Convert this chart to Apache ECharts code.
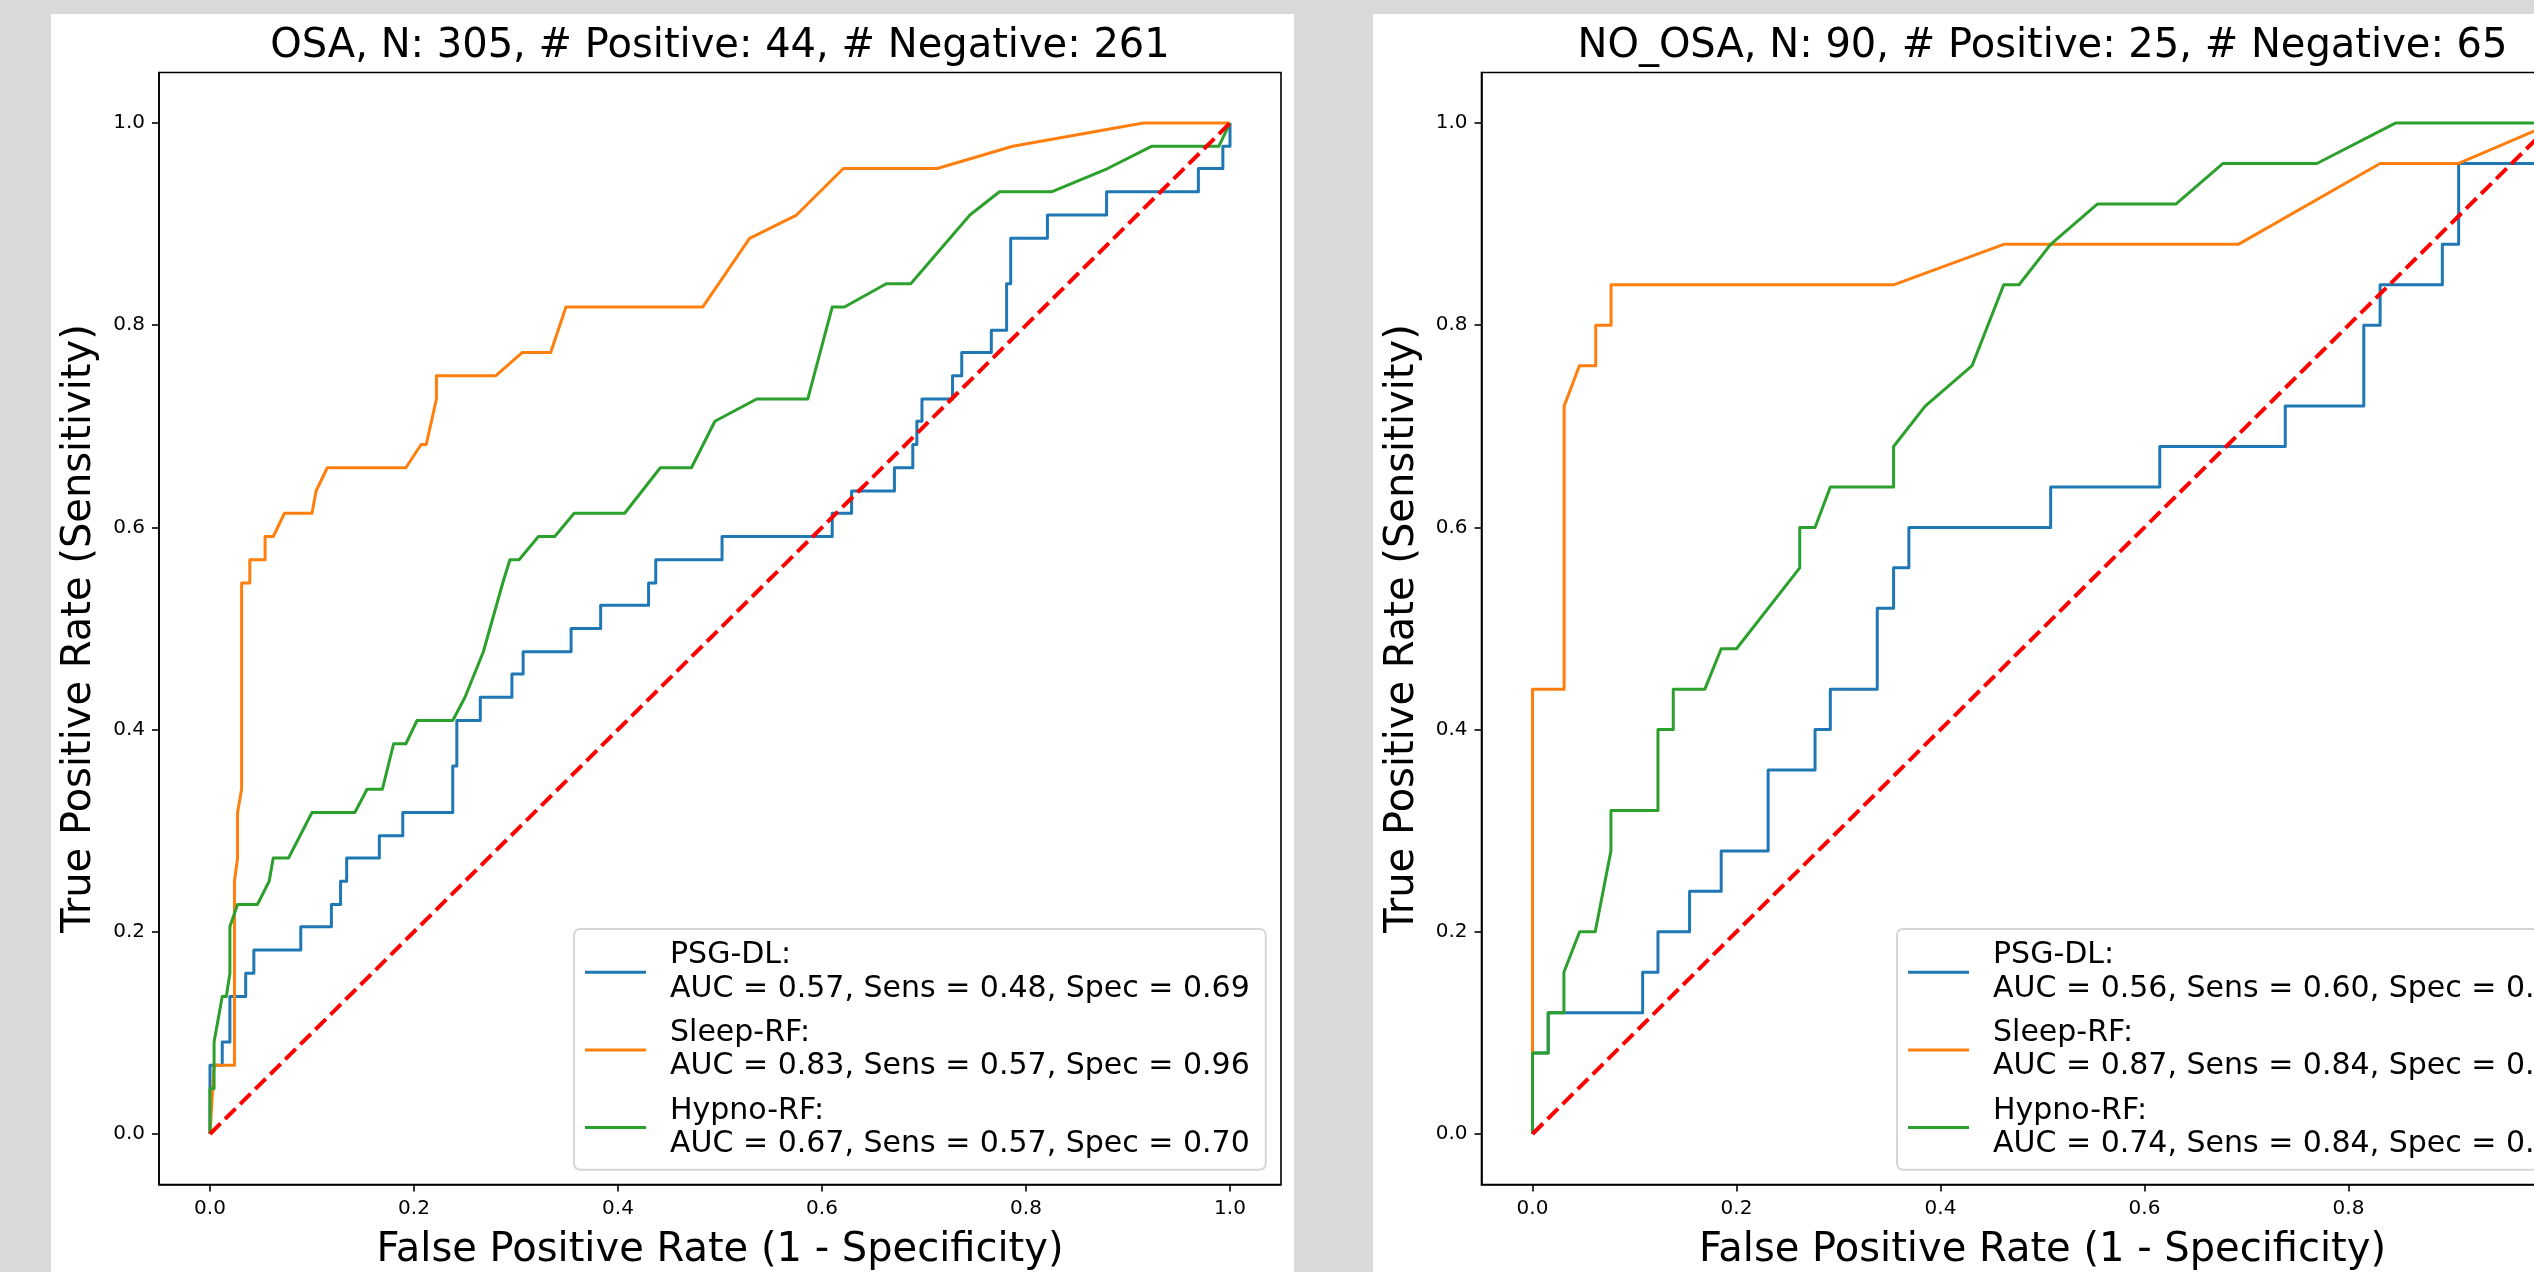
<!DOCTYPE html>
<html>
<head>
<meta charset="utf-8">
<script src="https://cdn.jsdelivr.net/npm/echarts@6/dist/echarts.min.js"></script>
<style>
html,body{margin:0;padding:0;background:#d9d9d9;}
#chart{width:2534px;height:1272px;}
</style>
</head>
<body>
<div id="chart"></div>
<script>
// ---------- data ----------
const xTicks = [0, 0.2, 0.4, 0.6, 0.8, 1.0];
const yTicks = [0, 0.2, 0.4, 0.6, 0.8, 1.0];
const panelTitles = [
  'OSA, N: 305, # Positive: 44, # Negative: 261',
  'NO_OSA, N: 90, # Positive: 25, # Negative: 65'
];
const xAxisTitle = 'False Positive Rate (1 - Specificity)';
const yAxisTitle = 'True Positive Rate (Sensitivity)';
const modelNames = ['PSG-DL', 'Sleep-RF', 'Hypno-RF'];
const osaStats = [
  'AUC = 0.57, Sens = 0.48, Spec = 0.69',
  'AUC = 0.83, Sens = 0.57, Spec = 0.96',
  'AUC = 0.67, Sens = 0.57, Spec = 0.70'
];
const noOsaStats = [
  'AUC = 0.56, Sens = 0.60, Spec = 0.63',
  'AUC = 0.87, Sens = 0.84, Spec = 0.92',
  'AUC = 0.74, Sens = 0.84, Spec = 0.54'
];

// OSA panel (FPR, TPR)
const osaPsgDl = [[0,0],[0,0.068],[0.012,0.068],[0.012,0.091],[0.0195,0.091],[0.0195,0.136],[0.035,0.136],[0.035,0.159],[0.043,0.159],[0.043,0.182],[0.089,0.182],[0.089,0.205],[0.119,0.205],[0.119,0.227],[0.128,0.227],[0.128,0.25],[0.134,0.25],[0.134,0.273],[0.166,0.273],[0.166,0.295],[0.189,0.295],[0.189,0.318],[0.238,0.318],[0.238,0.364],[0.242,0.364],[0.242,0.409],[0.265,0.409],[0.265,0.432],[0.296,0.432],[0.296,0.455],[0.307,0.455],[0.307,0.477],[0.354,0.477],[0.354,0.5],[0.383,0.5],[0.383,0.523],[0.43,0.523],[0.43,0.545],[0.437,0.545],[0.437,0.568],[0.502,0.568],[0.502,0.591],[0.61,0.591],[0.61,0.614],[0.629,0.614],[0.629,0.636],[0.671,0.636],[0.671,0.659],[0.689,0.659],[0.689,0.682],[0.693,0.682],[0.693,0.705],[0.698,0.705],[0.698,0.727],[0.728,0.727],[0.728,0.75],[0.737,0.75],[0.737,0.773],[0.766,0.773],[0.766,0.795],[0.781,0.795],[0.781,0.841],[0.785,0.841],[0.785,0.886],[0.821,0.886],[0.821,0.909],[0.879,0.909],[0.879,0.932],[0.969,0.932],[0.969,0.955],[0.993,0.955],[0.993,0.977],[1,0.977],[1,1]];
const osaSleepRf = [[0,0],[0.004,0.068],[0.024,0.068],[0.024,0.25],[0.027,0.273],[0.027,0.318],[0.031,0.341],[0.031,0.545],[0.039,0.545],[0.039,0.568],[0.054,0.568],[0.054,0.591],[0.062,0.591],[0.073,0.614],[0.1,0.614],[0.104,0.636],[0.115,0.659],[0.192,0.659],[0.207,0.682],[0.212,0.682],[0.222,0.727],[0.222,0.75],[0.28,0.75],[0.306,0.773],[0.334,0.773],[0.349,0.818],[0.483,0.818],[0.529,0.886],[0.575,0.909],[0.621,0.955],[0.713,0.955],[0.787,0.977],[0.915,1],[1,1]];
const osaHypnoRf = [[0,0],[0,0.045],[0.004,0.045],[0.004,0.091],[0.012,0.136],[0.016,0.136],[0.0195,0.159],[0.0195,0.205],[0.027,0.227],[0.0465,0.227],[0.058,0.25],[0.062,0.273],[0.077,0.273],[0.1,0.318],[0.142,0.318],[0.154,0.341],[0.169,0.341],[0.18,0.386],[0.192,0.386],[0.203,0.409],[0.238,0.409],[0.25,0.432],[0.268,0.477],[0.287,0.545],[0.294,0.568],[0.303,0.568],[0.322,0.591],[0.338,0.591],[0.357,0.614],[0.4065,0.614],[0.4415,0.659],[0.472,0.659],[0.495,0.705],[0.536,0.727],[0.586,0.727],[0.61,0.818],[0.622,0.818],[0.663,0.841],[0.687,0.841],[0.745,0.909],[0.774,0.932],[0.825,0.932],[0.88,0.955],[0.923,0.977],[0.989,0.977],[1,1]];

// NO_OSA panel (FPR, TPR)
const noOsaPsgDl = [[0,0],[0,0.08],[0.0154,0.08],[0.0154,0.12],[0.108,0.12],[0.108,0.16],[0.123,0.16],[0.123,0.2],[0.154,0.2],[0.154,0.24],[0.185,0.24],[0.185,0.28],[0.231,0.28],[0.231,0.36],[0.277,0.36],[0.277,0.4],[0.292,0.4],[0.292,0.44],[0.338,0.44],[0.338,0.52],[0.354,0.52],[0.354,0.56],[0.369,0.56],[0.369,0.6],[0.508,0.6],[0.508,0.64],[0.615,0.64],[0.615,0.68],[0.738,0.68],[0.738,0.72],[0.815,0.72],[0.815,0.8],[0.831,0.8],[0.831,0.84],[0.892,0.84],[0.892,0.88],[0.908,0.88],[0.908,0.96],[1,0.96],[1,1]];
const noOsaSleepRf = [[0,0],[0,0.44],[0.031,0.44],[0.031,0.72],[0.046,0.76],[0.062,0.76],[0.062,0.8],[0.077,0.8],[0.077,0.84],[0.354,0.84],[0.462,0.88],[0.692,0.88],[0.831,0.96],[0.908,0.96],[1,1]];
const noOsaHypnoRf = [[0,0],[0,0.08],[0.0154,0.08],[0.0154,0.12],[0.0308,0.12],[0.0308,0.16],[0.0462,0.2],[0.0615,0.2],[0.0769,0.28],[0.0769,0.32],[0.123,0.32],[0.123,0.4],[0.138,0.4],[0.138,0.44],[0.169,0.44],[0.185,0.48],[0.2,0.48],[0.262,0.56],[0.262,0.6],[0.277,0.6],[0.292,0.64],[0.354,0.64],[0.354,0.68],[0.385,0.72],[0.431,0.76],[0.462,0.84],[0.477,0.84],[0.508,0.88],[0.554,0.92],[0.631,0.92],[0.677,0.96],[0.769,0.96],[0.846,1],[1,1]];

const chanceLine = [[0,0],[1,1]];

// ---------- styling / layout ----------
const FONT = 'DejaVu Sans';
const modelColors = ['#1f77b4', '#ff7f0e', '#2ca02c'];
const panels = [
  { grid: { left: 159, top: 72.5, width: 1122, height: 1112 }, curves: [osaPsgDl, osaSleepRf, osaHypnoRf], stats: osaStats, legendLeft: 574, bg: [51, 14], titleX: 720 },
  { grid: { left: 1481.5, top: 72.5, width: 1122, height: 1112 }, curves: [noOsaPsgDl, noOsaSleepRf, noOsaHypnoRf], stats: noOsaStats, legendLeft: 1897, bg: [1373, 14], titleX: 2042.5 }
];

const chart = echarts.init(document.getElementById('chart'), null, { renderer: 'canvas' });

const grid = [], xAxis = [], yAxis = [], series = [], legend = [], graphic = [];

panels.forEach((p, gi) => {
  grid.push(Object.assign({ show: true, borderColor: '#000', borderWidth: 1.6, backgroundColor: '#fff', containLabel: false, outerBoundsMode: 'none' }, p.grid));
  const axisCommon = {
    type: 'value', gridIndex: gi, min: -0.05, max: 1.05,
    axisLine: { show: true, onZero: false, lineStyle: { color: '#000', width: 1.6 } },
    splitLine: { show: false },
    nameLocation: 'middle',
    nameMoveOverlap: false,
    nameTextStyle: { fontSize: 40, fontFamily: FONT, color: '#000', lineHeight: 40 }
  };
  xAxis.push(Object.assign({}, axisCommon, {
    axisTick: { show: true, customValues: xTicks, length: 7, lineStyle: { color: '#000', width: 1.6 } },
    axisLabel: { customValues: xTicks, formatter: v => v.toFixed(1), margin: 14, fontSize: 20, fontFamily: FONT, color: '#000' },
    name: xAxisTitle, nameGap: 46
  }));
  yAxis.push(Object.assign({}, axisCommon, {
    axisTick: { show: true, customValues: yTicks, length: 7, lineStyle: { color: '#000', width: 1.6 } },
    axisLabel: { customValues: yTicks, formatter: v => v.toFixed(1), margin: 14, fontSize: 20, fontFamily: FONT, color: '#000' },
    name: yAxisTitle, nameGap: 59, nameRotate: 90
  }));
  p.curves.forEach((d, k) => {
    series.push({
      type: 'line', name: modelNames[k], xAxisIndex: gi, yAxisIndex: gi, data: d,
      showSymbol: false, symbol: 'none', animation: false, silent: true,
      lineStyle: { width: 3, color: modelColors[k], join: 'round' },
      itemStyle: { color: modelColors[k] }
    });
  });
  series.push({
    type: 'line', name: 'chance', xAxisIndex: gi, yAxisIndex: gi, data: chanceLine,
    showSymbol: false, symbol: 'none', animation: false, silent: true,
    lineStyle: { width: 4, color: '#ff0000', type: [14.8, 6.4] },
    itemStyle: { color: '#ff0000' }
  });
  legend.push({
    data: modelNames, orient: 'vertical', left: p.legendLeft, top: 929,
    padding: [10, 16, 9, 11], itemGap: 11, itemWidth: 61, itemHeight: 3, icon: 'rect',
    backgroundColor: 'rgba(255,255,255,0.8)', borderColor: '#d6d6d6', borderWidth: 2, borderRadius: 6,
    selectedMode: false,
    textStyle: { fontSize: 30, lineHeight: 33.3, fontFamily: FONT, color: '#000', padding: [0, 0, 0, 19] },
    formatter: name => name + ':\n' + p.stats[modelNames.indexOf(name)]
  });
  graphic.push({ type: 'rect', z: -10, silent: true, shape: { x: p.bg[0], y: p.bg[1], width: 1243, height: 1300 }, style: { fill: '#ffffff' } });
  graphic.push({ type: 'text', z: 10, silent: true, x: p.titleX, y: 47, style: { text: panelTitles[gi], font: '40px "DejaVu Sans"', fill: '#000', align: 'center', verticalAlign: 'middle', lineHeight: 40 } });
});

chart.setOption({
  backgroundColor: '#d9d9d9',
  animation: false,
  textStyle: { fontFamily: FONT },
  grid, xAxis, yAxis, series, legend, graphic
});
</script>
</body>
</html>
